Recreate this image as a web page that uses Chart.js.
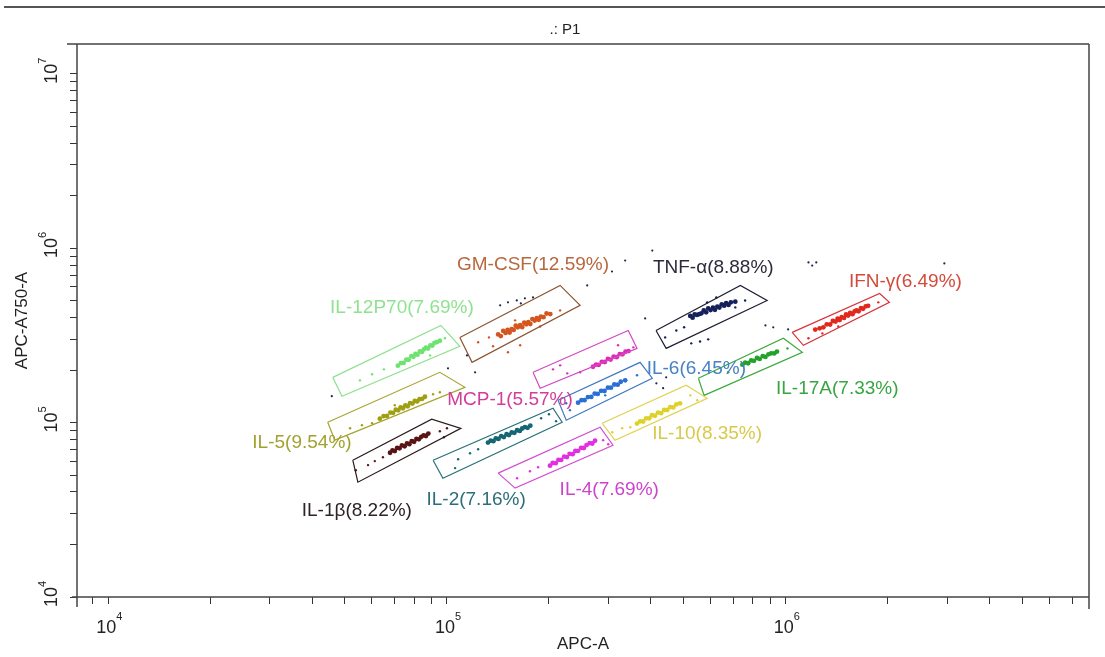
<!DOCTYPE html>
<html><head><meta charset="utf-8">
<script src="https://cdn.jsdelivr.net/npm/chart.js@4"></script>
<style>html,body{margin:0;padding:0;background:#fff}#wrap{width:1105px;height:657px}</style>
</head><body><div id="wrap"><canvas id="c" width="1105" height="657"></canvas></div>
<script>
// ---------- data (all values are log10 of the measured intensity) ----------
const chartTitle = '.: P1';
const xAxisTitle = 'APC-A';
const yAxisTitle = 'APC-A750-A';
const xTickExponents = [4, 5, 6];
const yTickExponents = [4, 5, 6, 7];
const xRangeLog10 = [3.908, 6.895];
const yRangeLog10 = [4, 7.17];

const popNames = ['GM-CSF','TNF-α','IFN-γ','IL-12P70','IL-5','IL-1β','IL-2','IL-4','IL-10','IL-6','MCP-1','IL-17A'];
const popPercents = [12.59, 8.88, 6.49, 7.69, 9.54, 8.22, 7.16, 7.69, 8.35, 6.45, 5.57, 7.33];

const gmcsfCore = [[5.151,5.505],[5.159,5.496],[5.166,5.525],[5.173,5.514],[5.179,5.531],[5.185,5.516],[5.191,5.536],[5.197,5.531],[5.203,5.555],[5.209,5.546],[5.216,5.559],[5.222,5.547],[5.228,5.572],[5.234,5.563],[5.240,5.575],[5.246,5.565],[5.252,5.593],[5.259,5.585],[5.265,5.599],[5.271,5.589],[5.277,5.607],[5.285,5.604],[5.294,5.625],[5.305,5.622]];
const gmcsfSparse = [[5.092,5.460],[5.124,5.488],[5.136,5.437],[5.180,5.403],[5.216,5.443],[5.275,5.551],[5.334,5.643],[5.201,5.586]];
const tnfCore = [[5.718,5.611],[5.725,5.601],[5.731,5.620],[5.738,5.617],[5.745,5.622],[5.751,5.626],[5.758,5.643],[5.765,5.632],[5.771,5.654],[5.778,5.645],[5.785,5.658],[5.791,5.646],[5.798,5.665],[5.804,5.659],[5.811,5.678],[5.818,5.670],[5.824,5.684],[5.831,5.674],[5.838,5.689],[5.851,5.693]];
const tnfSparse = [[5.644,5.488],[5.677,5.528],[5.700,5.546],[5.768,5.689],[5.795,5.717],[5.851,5.660],[5.721,5.454],[5.747,5.465],[5.771,5.477],[5.880,5.700]];
const ifnCore = [[6.087,5.533],[6.100,5.540],[6.111,5.546],[6.121,5.563],[6.131,5.562],[6.139,5.582],[6.147,5.579],[6.153,5.595],[6.159,5.588],[6.165,5.604],[6.172,5.600],[6.178,5.620],[6.184,5.613],[6.190,5.628],[6.197,5.621],[6.203,5.637],[6.209,5.643],[6.215,5.638],[6.222,5.656],[6.228,5.652],[6.236,5.666],[6.243,5.669]];
const ifnSparse = [[6.067,5.483],[6.108,5.511],[6.155,5.551],[6.273,5.689],[6.191,5.626]];
const il12Core = [[4.855,5.326],[4.864,5.341],[4.872,5.342],[4.880,5.361],[4.887,5.360],[4.895,5.381],[4.901,5.377],[4.907,5.393],[4.913,5.389],[4.920,5.408],[4.926,5.405],[4.932,5.420],[4.938,5.430],[4.944,5.424],[4.951,5.442],[4.957,5.441],[4.963,5.457],[4.970,5.461],[4.979,5.469]];
const il12Sparse = [[4.779,5.277],[4.814,5.305],[4.743,5.242],[4.994,5.483],[4.950,5.385]];
const il5Core = [[4.802,5.022],[4.813,5.037],[4.823,5.038],[4.833,5.057],[4.841,5.056],[4.849,5.074],[4.856,5.070],[4.863,5.087],[4.870,5.082],[4.877,5.098],[4.884,5.093],[4.891,5.111],[4.898,5.109],[4.905,5.124],[4.912,5.121],[4.919,5.134],[4.927,5.136],[4.935,5.148]];
const il5Sparse = [[4.714,4.967],[4.749,4.985],[4.779,4.996],[4.959,5.162],[4.979,5.174],[4.846,5.099]];
const il1bCore = [[4.832,4.827],[4.839,4.840],[4.846,4.837],[4.853,4.855],[4.860,4.852],[4.867,4.869],[4.875,4.864],[4.882,4.881],[4.889,4.876],[4.896,4.893],[4.903,4.890],[4.910,4.907],[4.917,4.904],[4.924,4.918],[4.931,4.927],[4.938,4.923],[4.945,4.937]];
const il1bSparse = [[4.767,4.756],[4.787,4.779],[4.811,4.801],[4.979,4.950],[5.000,4.967],[4.991,4.916],[4.731,4.727]];
const il2Core = [[5.121,4.885],[5.129,4.896],[5.137,4.893],[5.144,4.909],[5.152,4.906],[5.160,4.922],[5.168,4.917],[5.176,4.933],[5.183,4.928],[5.191,4.943],[5.199,4.941],[5.207,4.956],[5.215,4.952],[5.222,4.966],[5.230,4.974],[5.238,4.970],[5.246,4.982]];
const il2Sparse = [[5.033,4.790],[5.068,4.824],[5.092,4.847],[5.278,5.025],[5.301,5.048],[5.322,5.008],[5.024,4.739]];
const il4Core = [[5.304,4.753],[5.312,4.768],[5.321,4.767],[5.329,4.786],[5.337,4.786],[5.346,4.805],[5.354,4.802],[5.362,4.821],[5.371,4.819],[5.379,4.837],[5.387,4.838],[5.396,4.855],[5.404,4.854],[5.412,4.871],[5.421,4.882],[5.429,4.880],[5.437,4.896]];
const il4Sparse = [[5.207,4.681],[5.245,4.721],[5.269,4.744],[5.461,4.899],[5.476,4.876]];
const il10Core = [[5.561,4.994],[5.570,5.007],[5.579,5.006],[5.588,5.024],[5.597,5.024],[5.605,5.042],[5.614,5.039],[5.623,5.057],[5.632,5.054],[5.641,5.072],[5.650,5.072],[5.659,5.089],[5.668,5.087],[5.677,5.104],[5.688,5.110]];
const il10Sparse = [[5.517,4.967],[5.541,4.973],[5.488,4.945],[5.739,5.128],[5.718,5.156]];
const il6Core = [[5.387,5.114],[5.397,5.128],[5.406,5.128],[5.416,5.146],[5.426,5.147],[5.436,5.166],[5.445,5.164],[5.455,5.182],[5.465,5.181],[5.475,5.200],[5.484,5.200],[5.494,5.218],[5.504,5.217],[5.513,5.234],[5.526,5.242]];
const il6Sparse = [[5.363,5.071],[5.352,5.111],[5.561,5.271],[5.467,5.156]];
const mcp1Core = [[5.431,5.320],[5.440,5.332],[5.448,5.331],[5.457,5.348],[5.466,5.347],[5.475,5.365],[5.483,5.361],[5.492,5.378],[5.501,5.375],[5.510,5.392],[5.518,5.391],[5.527,5.406],[5.536,5.410]];
const mcp1Sparse = [[5.313,5.305],[5.334,5.328],[5.355,5.282],[5.393,5.288],[5.550,5.431],[5.505,5.443]];
const il17Core = [[5.872,5.332],[5.880,5.343],[5.889,5.340],[5.898,5.356],[5.906,5.354],[5.915,5.370],[5.923,5.365],[5.932,5.381],[5.940,5.376],[5.949,5.391],[5.957,5.397],[5.966,5.396],[5.974,5.407]];
const il17Sparse = [[5.830,5.288],[6.005,5.425],[5.925,5.368]];
const ungatedEvents = [[5.487,5.866],[5.526,5.929],[5.606,5.986],[6.067,5.918],[6.078,5.900],[6.090,5.918],[6.468,5.912],[4.660,5.151],[5.059,5.385],[5.083,5.288],[5.003,5.311],[5.414,5.786],[5.585,5.597],[5.647,5.259],[5.618,5.225],[5.638,5.197],[5.940,5.557],[5.963,5.546],[6.007,5.534],[5.157,5.672],[5.180,5.689],[5.206,5.700],[5.230,5.712],[5.254,5.717],[5.218,5.683]];

const gmcsfGate = [[5.038,5.488],[5.334,5.786],[5.393,5.672],[5.074,5.345]];
const tnfGate = [[5.617,5.528],[5.866,5.786],[5.945,5.700],[5.647,5.425]];
const ifnGate = [[6.019,5.517],[6.277,5.740],[6.306,5.689],[6.052,5.443]];
const il12Gate = [[4.663,5.259],[4.982,5.557],[5.038,5.437],[4.690,5.151]];
const il5Gate = [[4.648,5.002],[4.979,5.288],[5.053,5.202],[4.669,4.899]];
const il1bGate = [[4.722,4.784],[4.955,5.019],[5.041,4.967],[4.737,4.658]];
const il2Gate = [[4.959,4.784],[5.313,5.082],[5.340,5.002],[4.988,4.681]];
const il4Gate = [[5.151,4.710],[5.452,4.973],[5.490,4.870],[5.201,4.624]];
const il10Gate = [[5.458,4.996],[5.706,5.214],[5.768,5.139],[5.496,4.899]];
const il6Gate = [[5.328,5.128],[5.570,5.345],[5.606,5.254],[5.352,5.013]];
const mcp1Gate = [[5.254,5.288],[5.535,5.528],[5.561,5.425],[5.275,5.197]];
const il17Gate = [[5.742,5.254],[5.993,5.483],[6.049,5.403],[5.759,5.156]];

const labelAnchorsLog10 = [[5.254,5.906],[5.786,5.889],[6.353,5.809],[4.867,5.660],[4.572,4.882],[4.734,4.492],[5.086,4.555],[5.479,4.613],[5.768,4.933],[5.736,5.311],[5.186,5.128],[6.152,5.191]];

// ---------- styles ----------
const dotColors = ['#d4561f','#16205a','#e0281c','#6fe36f','#9f9f12','#5a1414','#146673','#e030e0','#dcd22a','#2a6fd6','#e02ab4','#22a22a'];
const gateColors = ['#8c5532','#1e1e34','#d8333a','#8fe08f','#a8a330','#2a1a1a','#27707a','#d24ed2','#ded250','#3f78c4','#d24ac4','#3aaa3a'];
const labelColors = ['#b8673e','#2b2b3b','#d44a3a','#8fe28f','#a3a22e','#2d2424','#2b6e7a','#cc44cc','#d8c94a','#4682c4','#d23c9a','#38a540'];
const FONT = '"Liberation Sans", Arial, sans-serif';

const cores = [gmcsfCore,tnfCore,ifnCore,il12Core,il5Core,il1bCore,il2Core,il4Core,il10Core,il6Core,mcp1Core,il17Core];
const sparses = [gmcsfSparse,tnfSparse,ifnSparse,il12Sparse,il5Sparse,il1bSparse,il2Sparse,il4Sparse,il10Sparse,il6Sparse,mcp1Sparse,il17Sparse];
const gates = [gmcsfGate,tnfGate,ifnGate,il12Gate,il5Gate,il1bGate,il2Gate,il4Gate,il10Gate,il6Gate,mcp1Gate,il17Gate];

const toXY = ([a, b]) => ({x: Math.pow(10, a), y: Math.pow(10, b)});

const datasets = [];
popNames.forEach((name, i) => {
  datasets.push({label: name + ' gate', data: gates[i].concat([gates[i][0]]).map(toXY), showLine: true,
    borderColor: gateColors[i], borderWidth: 1.2, pointRadius: 0, fill: false, tension: 0});
  datasets.push({label: name, data: cores[i].map(toXY), backgroundColor: dotColors[i], pointRadius: 2.4, pointBorderWidth: 0});
  datasets.push({label: name + ' sparse', data: sparses[i].map(toXY), backgroundColor: dotColors[i], pointRadius: 1.2, pointBorderWidth: 0});
});
datasets.push({label: 'ungated', data: ungatedEvents.map(toXY), backgroundColor: '#1c2450', pointRadius: 1.1, pointBorderWidth: 0});

function logTickList(lo, hi) {
  const t = [];
  for (let e = Math.floor(lo); e <= Math.ceil(hi); e++) {
    for (let m = 1; m < 10; m++) {
      const v = m * Math.pow(10, e), l = Math.log10(v);
      if (l >= lo - 1e-9 && l <= hi + 1e-9) t.push({value: v, major: m === 1});
    }
  }
  return t;
}

const decor = {
  id: 'decor',
  afterDatasetsDraw(chart) {
    const {ctx, scales: {x, y}} = chart;
    ctx.save();
    ctx.font = '19px ' + FONT;
    ctx.textAlign = 'center';
    ctx.textBaseline = 'middle';
    popNames.forEach((name, i) => {
      const [a, b] = labelAnchorsLog10[i];
      ctx.fillStyle = labelColors[i];
      ctx.fillText(name + '(' + popPercents[i].toFixed(2) + '%)', x.getPixelForValue(Math.pow(10, a)), y.getPixelForValue(Math.pow(10, b)));
    });
    ctx.restore();
  },
  afterDraw(chart) {
    const {ctx, chartArea: ca, scales: {x, y}} = chart;
    ctx.save();
    // top rule
    ctx.strokeStyle = '#555';
    ctx.lineWidth = 2;
    ctx.beginPath(); ctx.moveTo(4, 7); ctx.lineTo(1105, 7); ctx.stroke();
    // title
    ctx.fillStyle = '#222';
    ctx.font = '15px ' + FONT;
    ctx.textAlign = 'center'; ctx.textBaseline = 'middle';
    ctx.fillText(chartTitle, 565, 30);
    // frame
    ctx.strokeStyle = '#444';
    ctx.lineWidth = 1.5;
    ctx.beginPath();
    ctx.moveTo(ca.left - 10, ca.top); ctx.lineTo(ca.right, ca.top);
    ctx.moveTo(ca.right, ca.top); ctx.lineTo(ca.right, ca.bottom + 12);
    ctx.moveTo(ca.left, ca.top); ctx.lineTo(ca.left, ca.bottom + 10);
    ctx.moveTo(ca.left - 5, ca.bottom); ctx.lineTo(ca.right, ca.bottom);
    ctx.stroke();
    // tick labels 10^n
    ctx.fillStyle = '#222';
    xTickExponents.forEach(e => {
      const px = x.getPixelForValue(Math.pow(10, e));
      ctx.font = '18px ' + FONT; ctx.textAlign = 'center'; ctx.textBaseline = 'middle';
      ctx.fillText('10', px - 2, 628);
      ctx.font = '11px ' + FONT; ctx.textAlign = 'left';
      ctx.fillText(String(e), px + 8, 617);
    });
    yTickExponents.forEach(e => {
      const py = y.getPixelForValue(Math.pow(10, e));
      ctx.save();
      ctx.translate(52, py);
      ctx.rotate(-Math.PI / 2);
      ctx.font = '18px ' + FONT; ctx.textAlign = 'center'; ctx.textBaseline = 'middle';
      ctx.fillText('10', 0, 0);
      ctx.font = '11px ' + FONT; ctx.textAlign = 'left';
      ctx.fillText(String(e), 10, -9);
      ctx.restore();
    });
    ctx.restore();
  }
};

new Chart(document.getElementById('c'), {
  type: 'scatter',
  data: {datasets},
  options: {
    responsive: false,
    animation: false,
    events: [],
    layout: {padding: {top: 44, right: 16, bottom: 0, left: 0}},
    plugins: {legend: {display: false}, tooltip: {enabled: false}, title: {display: false}},
    scales: {
      x: {
        type: 'logarithmic',
        min: Math.pow(10, xRangeLog10[0]), max: Math.pow(10, xRangeLog10[1]),
        afterBuildTicks: s => { s.ticks = logTickList(xRangeLog10[0], xRangeLog10[1]); },
        afterFit: s => { s.height = 60; },
        ticks: {display: false},
        grid: {display: true, drawOnChartArea: false, drawTicks: true, tickLength: 7, tickColor: '#333', tickWidth: 1},
        border: {display: false},
        title: {display: true, text: xAxisTitle, color: '#222', font: {size: 17, family: FONT}, padding: {top: 0, bottom: 2}}
      },
      y: {
        type: 'logarithmic',
        min: Math.pow(10, yRangeLog10[0]), max: Math.pow(10, yRangeLog10[1]),
        afterBuildTicks: s => { s.ticks = logTickList(yRangeLog10[0], yRangeLog10[1]); },
        afterFit: s => { s.width = 77; },
        ticks: {display: false},
        grid: {display: true, drawOnChartArea: false, drawTicks: true, tickLength: 7, tickColor: '#333', tickWidth: 1},
        border: {display: false},
        title: {display: true, text: yAxisTitle, color: '#222', font: {size: 17, family: FONT}, padding: {top: 12, bottom: 0}}
      }
    }
  },
  plugins: [decor]
});
</script>
</body></html>
